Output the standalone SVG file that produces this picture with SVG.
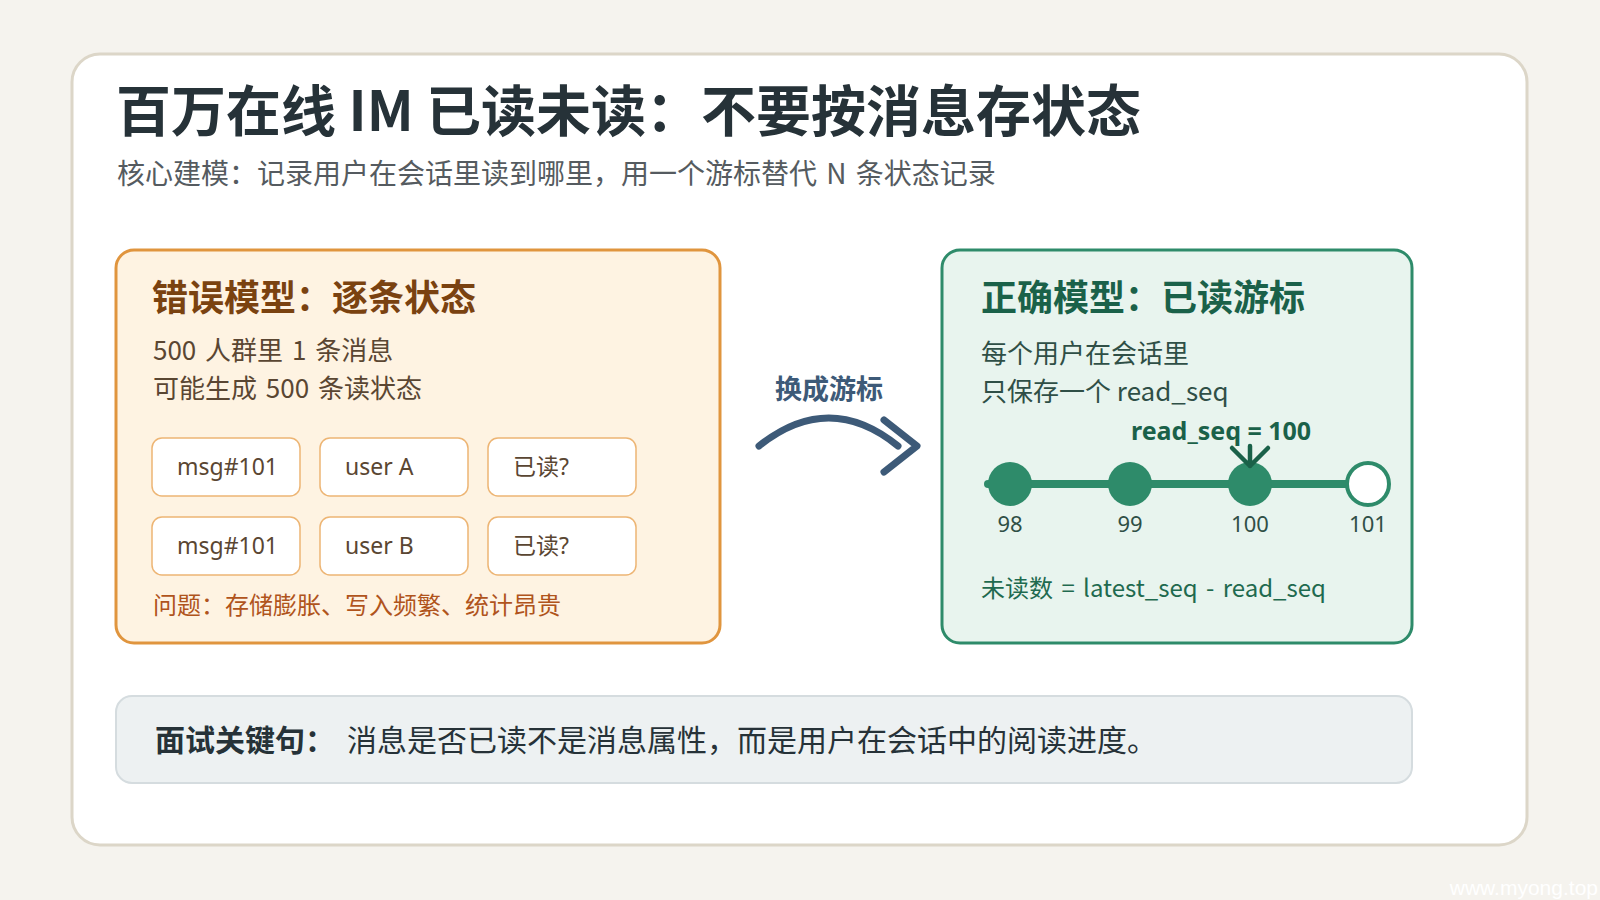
<svg xmlns="http://www.w3.org/2000/svg" width="1600" height="900" viewBox="0 0 1600 900">
  <defs>
    <style>
      .cjk { font-family: "Noto Sans CJK SC", "Noto Sans", sans-serif; }
      .lat { font-family: "Noto Sans", "Noto Sans CJK SC", sans-serif; }
      .body { word-spacing: 3px; }
      .cell { fill: #ffffff; stroke: #edb574; stroke-width: 1.5; }
      .celltxt { font-family: "Noto Sans", "Noto Sans CJK SC", sans-serif; font-size: 23px; fill: #5a4632; }
      .dot { fill: #2e8b6a; }
      .seqlbl { font-family: "Noto Sans", "Noto Sans CJK SC", sans-serif; font-size: 22px; fill: #2f4f46; text-anchor: middle; }
    </style>
  </defs>
  <rect x="0" y="0" width="1600" height="900" fill="#f5f3ee"/>
  <g id="card">
    <rect x="72" y="54" width="1455" height="791" rx="28" fill="#ffffff" stroke="#dcd6c8" stroke-width="3"/>
  </g>
  <g id="header">
    <text x="116" y="131" class="cjk" font-size="55" font-weight="700" fill="#263238">百万在线 IM 已读未读：不要按消息存状态</text>
    <text x="117" y="184" class="cjk body" font-size="28" fill="#555b60">核心建模：记录用户在会话里读到哪里，用一个游标替代 N 条状态记录</text>
  </g>
  <g id="wrong-model">
    <rect x="116" y="250" width="604" height="393" rx="18" fill="#fef3e2" stroke="#e0953e" stroke-width="3"/>
    <text x="152" y="311" class="cjk" font-size="36" font-weight="700" fill="#7a4210">错误模型：逐条状态</text>
    <text x="153" y="360" class="cjk body" font-size="26" fill="#5a4632">500 人群里 1 条消息</text>
    <text x="153" y="398" class="cjk body" font-size="26" fill="#5a4632">可能生成 500 条读状态</text>
    <g id="cell-r1c1"><rect class="cell" x="152" y="438" width="148" height="58" rx="10"/><text class="celltxt" x="177" y="475">msg#101</text></g>
    <g id="cell-r1c2"><rect class="cell" x="320" y="438" width="148" height="58" rx="10"/><text class="celltxt" x="345" y="475">user A</text></g>
    <g id="cell-r1c3"><rect class="cell" x="488" y="438" width="148" height="58" rx="10"/><text class="celltxt" x="513" y="475">已读?</text></g>
    <g id="cell-r2c1"><rect class="cell" x="152" y="517" width="148" height="58" rx="10"/><text class="celltxt" x="177" y="554">msg#101</text></g>
    <g id="cell-r2c2"><rect class="cell" x="320" y="517" width="148" height="58" rx="10"/><text class="celltxt" x="345" y="554">user B</text></g>
    <g id="cell-r2c3"><rect class="cell" x="488" y="517" width="148" height="58" rx="10"/><text class="celltxt" x="513" y="554">已读?</text></g>
    <text x="153" y="614" class="cjk" font-size="24" fill="#b0541c">问题：存储膨胀、写入频繁、统计昂贵</text>
  </g>
  <g id="connectors">
    <text x="829" y="399" class="cjk" font-size="27" font-weight="700" fill="#3d5a78" text-anchor="middle">换成游标</text>
    <path d="M759 446 Q829 390 898 446" fill="none" stroke="#3d5a78" stroke-width="7" stroke-linecap="round"/>
    <path d="M884 420 L917 446 L884 472" fill="none" stroke="#3d5a78" stroke-width="7" stroke-linecap="round" stroke-linejoin="round"/>
  </g>
  <g id="right-model">
    <rect x="942" y="250" width="470" height="393" rx="18" fill="#e8f4ee" stroke="#2e8b6a" stroke-width="3"/>
    <text x="981" y="311" class="cjk" font-size="36" font-weight="700" fill="#1a6149">正确模型：已读游标</text>
    <text x="981" y="363" class="cjk" font-size="26" fill="#2f4f46">每个用户在会话里</text>
    <text x="981" y="401" class="cjk" font-size="26" fill="#2f4f46">只保存一个 read_seq</text>
    <g id="timeline">
      <line x1="988" y1="484" x2="1350" y2="484" stroke="#2e8b6a" stroke-width="8" stroke-linecap="round"/>
      <circle class="dot" cx="1010" cy="484" r="22"/>
      <circle class="dot" cx="1130" cy="484" r="22"/>
      <circle class="dot" cx="1250" cy="484" r="22"/>
      <circle cx="1368" cy="484" r="21" fill="#ffffff" stroke="#2e8b6a" stroke-width="4"/>
      <text class="seqlbl" x="1010" y="532">98</text>
      <text class="seqlbl" x="1130" y="532">99</text>
      <text class="seqlbl" x="1250" y="532">100</text>
      <text class="seqlbl" x="1368" y="532">101</text>
      <text x="1131" y="440" class="lat" font-size="25" font-weight="700" fill="#1a6149">read_seq = 100</text>
      <path d="M1250 446 L1250 466 M1232 448 L1250 466 L1268 448" fill="none" stroke="#1a6149" stroke-width="4.5" stroke-linecap="round" stroke-linejoin="round"/>
    </g>
    <text x="981" y="597" class="cjk body" font-size="24" fill="#1f6a4f">未读数 = latest_seq - read_seq</text>
  </g>
  <g id="keyline">
    <rect x="116" y="696" width="1296" height="87" rx="16" fill="#edf1f2" stroke="#d5dcdf" stroke-width="2"/>
    <text x="155" y="751" class="cjk" font-size="30" font-weight="700" fill="#263238">面试关键句：</text>
    <text x="347" y="751" class="cjk" font-size="30" fill="#263238">消息是否已读不是消息属性，而是用户在会话中的阅读进度。</text>
  </g>
  <text x="1598" y="895" font-family="Liberation Sans, sans-serif" font-size="21" fill="#ffffff" text-anchor="end">www.myong.top</text>
</svg>
